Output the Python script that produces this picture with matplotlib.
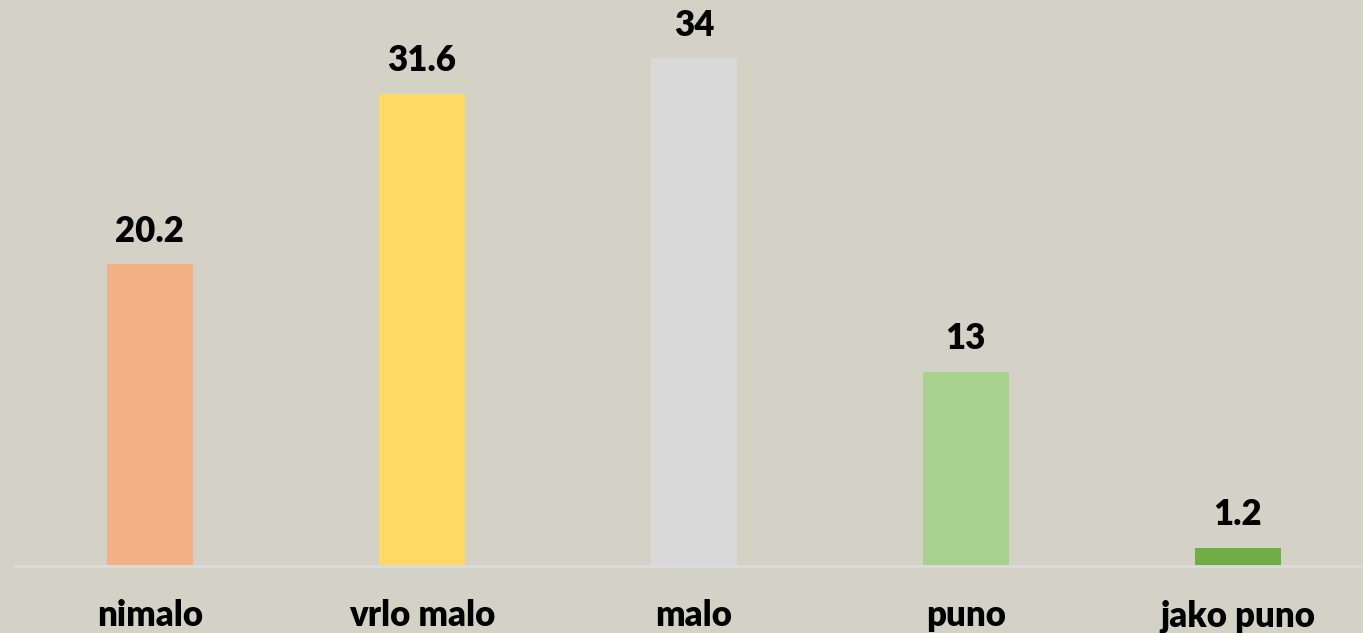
import matplotlib.pyplot as plt

categories = ["nimalo", "vrlo malo", "malo", "puno", "jako puno"]
values = [20.2, 31.6, 34, 13, 1.2]
value_labels = ["20.2", "31.6", "34", "13", "1.2"]
colors = ["#F4B183", "#FFD966", "#D9D9D9", "#A9D18E", "#70AD47"]

bg = "#D4D2C7"
plt.rcParams['font.family'] = ['Lato', 'DejaVu Sans']

fig = plt.figure(figsize=(13.63, 6.33), dpi=100)
fig.patch.set_facecolor(bg)
ax = fig.add_axes([15 / 1363, 67 / 633, 1 - 15 / 1363, 566 / 633])
ax.set_facecolor(bg)

x = range(len(categories))
bars = ax.bar(x, values, width=0.316, color=colors, zorder=2)

for b, lab in zip(bars, value_labels):
    ax.annotate(lab, (b.get_x() + b.get_width() / 2, b.get_height()),
                xytext=(0, 12), textcoords="offset points",
                ha="center", va="bottom", fontsize=25, fontweight="heavy",
                color="black")

ax.set_xlim(-0.496, 4.46)
ax.set_ylim(0, 37.9)
ax.set_xticks(list(x))
ax.set_xticklabels(categories, fontsize=25, fontweight="heavy")
ax.tick_params(axis="x", length=0, pad=24)
ax.set_yticks([])
for s in ["top", "right", "left"]:
    ax.spines[s].set_visible(False)
ax.spines["bottom"].set_color("#DCDCDC")
ax.spines["bottom"].set_linewidth(2)

fig.savefig("out.png", dpi=100, facecolor=bg)
